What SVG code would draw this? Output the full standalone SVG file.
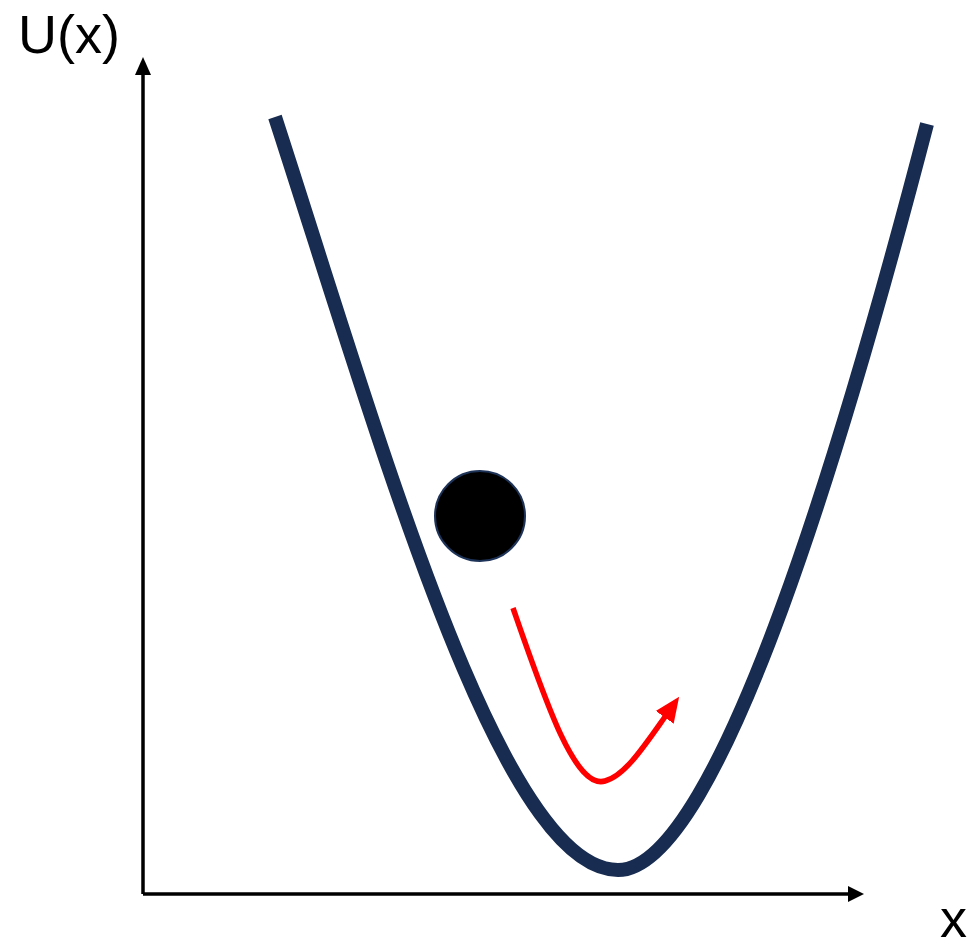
<svg xmlns="http://www.w3.org/2000/svg" width="973" height="950" viewBox="0 0 973 950">
<style>
.axis{stroke:#000;stroke-width:3.5;fill:none}
.lbl{font-family:"Liberation Sans",Arial,sans-serif;font-size:54px;fill:#000}
</style>
<defs>
<marker id="redhead" markerUnits="userSpaceOnUse" markerWidth="26" markerHeight="26" refX="4" refY="11" orient="auto" viewBox="0 0 26 22">
<path d="M0,0 L25,11 L0,22 Z" fill="#ff0000"/>
</marker>
</defs>
<rect width="973" height="950" fill="#fff"/>
<g id="axes">
<path class="axis" d="M143,894 L143,72"/>
<path d="M143,57 L135,75 L151,75 Z" fill="#000"/>
<path class="axis" d="M143,894 L851,894"/>
<path d="M864,894 L848,886 L848,902 Z" fill="#000"/>
</g>
<g id="labels">
<text class="lbl" x="18" y="53">U(x)</text>
<text class="lbl" x="940" y="937">x</text>
</g>
<g id="potential">
<path d="M275,117 C380,440 500,870 618,870 C720,870 850,420 927,124" fill="none" stroke="#172c50" stroke-width="14"/>
</g>
<g id="ball">
<circle cx="480" cy="516" r="45" fill="#000" stroke="#1e3358" stroke-width="2"/>
</g>
<g id="connectors">
<path d="M513,608 C545,700 575,790 605,781 C625,776 645,745 667,714" fill="none" stroke="#ff0000" stroke-width="5.5" marker-end="url(#redhead)"/>
</g>
</svg>
